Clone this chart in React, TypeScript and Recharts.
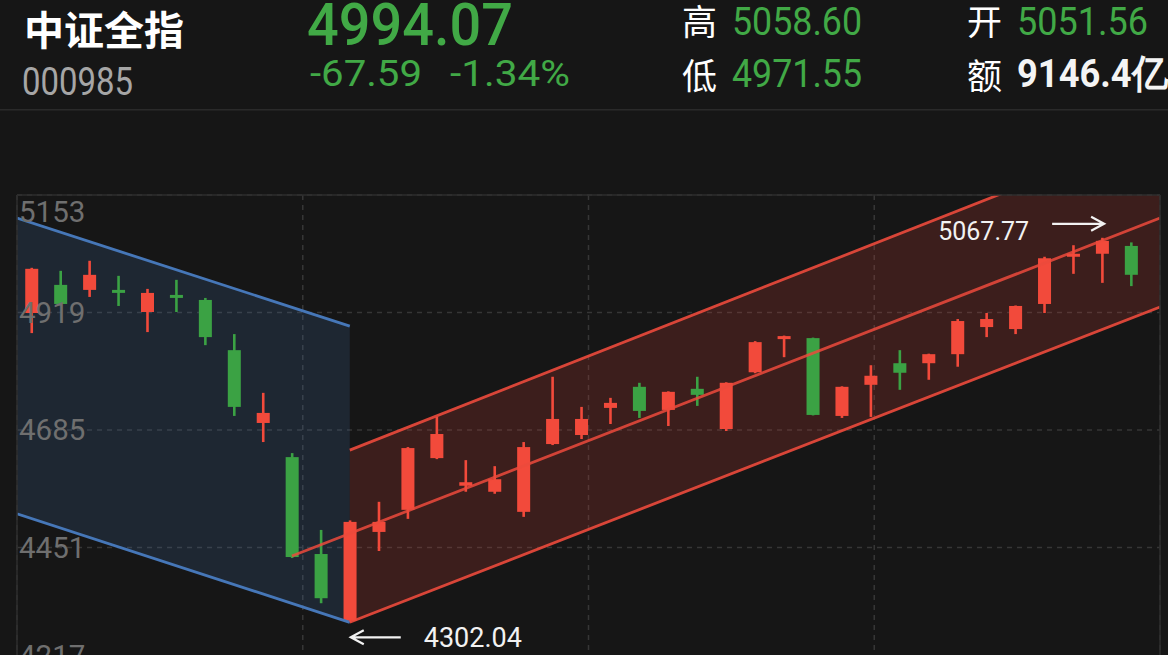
import React from 'react';
import { ComposedChart, Bar, Line, Area, Scatter, XAxis, YAxis, CartesianGrid } from 'recharts';

const RED = '#f24a3b';
const GREEN = '#3ba244';
const TEXT_GREEN = '#41a946';
const BG = '#161616';
const NUM_FONT = 'Roboto, "DejaVu Sans", sans-serif';
const CJK_FONT = '"Noto Sans CJK SC", "Noto Sans", sans-serif';

// daily candles, oldest first
const opens = [4918, 4974, 4964, 4964, 4920, 4954, 4944, 4844, 4699, 4631, 4438, 4305, 4482, 4526, 4629, 4574, 4562, 4522, 4657, 4675, 4729, 4771, 4725, 4767, 4687, 4800, 4866, 4868, 4713, 4775, 4818, 4818, 4836, 4890, 4886, 4936, 5030, 5036, 5051.56];
const closes = [5006, 4936, 4994, 4960, 4958, 4950, 4870, 4731, 4719, 4432, 4350, 4502, 4502, 4649, 4677, 4581, 4587, 4651, 4707, 4707, 4739, 4723, 4761, 4755, 4779, 4860, 4872, 4715, 4771, 4793, 4799, 4836, 4902, 4906, 4932, 5027, 5036, 5061.66, 4994.07];
const highs = [5008, 5002, 5022, 4992, 4966, 4984, 4948, 4876, 4759, 4639, 4486, 4505, 4542, 4651, 4711, 4625, 4613, 4661, 4791, 4731, 4749, 4779, 4762, 4791, 4780, 4862, 4873, 4869, 4772, 4814, 4844, 4837, 4906, 4918, 4933, 5030, 5053, 5067.77, 5058.6];
const lows = [4878, 4933, 4950, 4932, 4880, 4920, 4854, 4713, 4661, 4430, 4340, 4302.04, 4444, 4508, 4627, 4562, 4558, 4512, 4655, 4667, 4697, 4709, 4693, 4733, 4683, 4798, 4830, 4714, 4709, 4711, 4765, 4785, 4811, 4870, 4876, 4918, 4996, 4978, 4971.55];

const yTicks = [4217, 4451, 4685, 4919, 5153];
const yDomain = [4217, 5153];
const xDomain = [-0.5, 39];
const gridX = [9.375, 19.25, 29.125];

// channel endpoints (candle index, price)
const blueUpper = [{ i: -0.5, v: 5107 }, { i: 11, v: 4892 }];
const blueLower = [{ i: -0.5, v: 4518 }, { i: 11, v: 4302.04 }];
const redUpper = [{ i: 11, v: 4645 }, { i: 39, v: 5280 }];
const redMid = [{ i: 9, v: 4434 }, { i: 39, v: 5107 }];
const redLower = [{ i: 11, v: 4302.04 }, { i: 39, v: 4930 }];

const maxPoint = [{ i: 37, v: 5067.77 }];
const minPoint = [{ i: 11, v: 4302.04 }];

const candles = opens.map((o, i) => ({
  i,
  open: o,
  close: closes[i],
  high: highs[i],
  low: lows[i],
  range: [lows[i], highs[i]],
}));

const blueBand = blueUpper.map((p, k) => ({ i: p.i, band: [blueLower[k].v, p.v] }));
const redBand = redUpper.map((p, k) => ({ i: p.i, band: [redLower[k].v, p.v] }));

function Candle(props: any) {
  const { x, y, width, height, payload } = props;
  if (!payload) return null;
  const { open, close, high, low } = payload;
  const color = close >= open ? RED : GREEN;
  const span = high - low || 1;
  const toY = (v: number) => y + ((high - v) / span) * height;
  const cx = x + width / 2;
  const top = toY(Math.max(open, close));
  const bot = toY(Math.min(open, close));
  return (
    <g>
      <line x1={cx} x2={cx} y1={y} y2={y + height} stroke={color} strokeWidth={2.6} />
      <rect x={x} y={top} width={width} height={Math.max(bot - top, 3)} fill={color} />
    </g>
  );
}

function YTick(props: any) {
  const { x, y, payload } = props;
  // the end labels are pulled inside the plot frame
  const shift = payload.value === yTicks[yTicks.length - 1] ? 17 : payload.value === yTicks[0] ? -9 : 0;
  return (
    <text x={x} y={y + shift} dy="0.355em" textAnchor="start" fill="#6f6f6f" fontSize={29.5} fontFamily={NUM_FONT}>
      {payload.value}
    </text>
  );
}

function Arrow({ x1, x2, y }: { x1: number; x2: number; y: number }) {
  const dir = x2 > x1 ? 1 : -1;
  return (
    <path
      d={`M${x1},${y} L${x2},${y} M${x2 - dir * 13},${y - 7} L${x2},${y} L${x2 - dir * 13},${y + 7}`}
      stroke="#f2f2f2"
      strokeWidth={2.2}
      fill="none"
    />
  );
}

function MaxMark(props: any) {
  const { cx, cy } = props;
  return (
    <g>
      <text x={cx - 73} y={cy + 2} textAnchor="end" fill="#f2f2f2" fontSize={25} fontFamily={NUM_FONT}>
        5067.77
      </text>
      <Arrow x1={cx - 50} x2={cx + 2} y={cy - 14} />
    </g>
  );
}

function MinMark(props: any) {
  const { cx, cy } = props;
  return (
    <g>
      <Arrow x1={cx + 51} x2={cx + 1} y={cy + 15} />
      <text x={cx + 74} y={cy + 25} textAnchor="start" fill="#f2f2f2" fontSize={27} fontFamily={NUM_FONT}>
        4302.04
      </text>
    </g>
  );
}

function Header() {
  const g = { fill: TEXT_GREEN, fontFamily: NUM_FONT, lengthAdjust: 'spacingAndGlyphs' as const };
  const cjk = { fill: '#ffffff', fontFamily: CJK_FONT };
  return (
    <svg width={1168} height={112} style={{ position: 'absolute', left: 0, top: 0 }}>
      <text x={24} y={45} fontSize={40} fontWeight={700} {...cjk}>中证全指</text>
      <text x={22} y={95} fontSize={38} fill="#a6a6a6" fontFamily={NUM_FONT} textLength={111} lengthAdjust="spacingAndGlyphs">000985</text>
      <text x={307} y={45} fontSize={59} fontWeight={500} textLength={206} {...g}>4994.07</text>
      <text x={310} y={86} fontSize={36} textLength={112} {...g}>-67.59</text>
      <text x={450} y={86} fontSize={36} textLength={120} {...g}>-1.34%</text>
      <text x={682} y={35} fontSize={35} {...cjk}>高</text>
      <text x={732} y={35} fontSize={39} textLength={130} {...g}>5058.60</text>
      <text x={682} y={89} fontSize={35} {...cjk}>低</text>
      <text x={732} y={87} fontSize={39} textLength={130} {...g}>4971.55</text>
      <text x={967} y={35} fontSize={35} {...cjk}>开</text>
      <text x={1017} y={35} fontSize={39} textLength={131} {...g}>5051.56</text>
      <text x={967} y={89} fontSize={35} {...cjk}>额</text>
      <text x={1017} y={87} fontSize={39} fontWeight={700} fill="#f4f4f4" fontFamily={NUM_FONT} textLength={151} lengthAdjust="spacingAndGlyphs">9146.4亿</text>
      <rect x={0} y={109} width={1168} height={1.5} fill="#2a2a2a" />
    </svg>
  );
}

export default function App() {
  return (
    <div style={{ position: 'fixed', left: 0, top: 0, width: 1168, height: 655, overflow: 'hidden', background: BG }}>
      <Header />
      <div style={{ position: 'absolute', left: 0, top: 0 }}>
        <ComposedChart width={1168} height={700} data={candles} margin={{ top: 195, right: 8, bottom: 35, left: 17 }}>
          <CartesianGrid stroke="#363636" strokeWidth={1.5} strokeDasharray="5 5" />
          <XAxis type="number" dataKey="i" domain={xDomain} ticks={gridX} allowDataOverflow hide />
          <XAxis xAxisId="frame" orientation="top" mirror type="number" domain={xDomain} height={1} tick={false} tickLine={false} axisLine={{ stroke: '#2e2e2e', strokeWidth: 1.5 }} />
          <YAxis yAxisId="frame" orientation="right" mirror width={1} domain={yDomain} tick={false} tickLine={false} axisLine={{ stroke: '#2e2e2e', strokeWidth: 1.5 }} />
          <YAxis
            domain={yDomain}
            ticks={yTicks}
            allowDataOverflow
            mirror
            width={1}
            tickSize={0}
            tickMargin={2}
            tickLine={false}
            axisLine={{ stroke: '#2e2e2e', strokeWidth: 1.5 }}
            tick={<YTick />}
            interval={0}
          />
          <Area data={blueBand} dataKey="band" type="linear" stroke="none" fill="rgba(67,112,167,0.2)" fillOpacity={1} isAnimationActive={false} />
          <Area data={redBand} dataKey="band" type="linear" stroke="none" fill="rgba(205,60,50,0.21)" fillOpacity={1} isAnimationActive={false} />
          <Bar dataKey="range" barSize={23} shape={<Candle />} isAnimationActive={false} />
          <Line data={blueUpper} dataKey="v" type="linear" stroke="#4677b8" strokeWidth={2.8} dot={false} isAnimationActive={false} />
          <Line data={blueLower} dataKey="v" type="linear" stroke="#4677b8" strokeWidth={2.8} dot={false} isAnimationActive={false} />
          <Line data={redUpper} dataKey="v" type="linear" stroke="#ec4a3c" strokeOpacity={0.9} strokeWidth={2.8} dot={false} isAnimationActive={false} />
          <Line data={redMid} dataKey="v" type="linear" stroke="#ec4a3c" strokeOpacity={0.85} strokeWidth={2.8} dot={false} isAnimationActive={false} />
          <Line data={redLower} dataKey="v" type="linear" stroke="#ec4a3c" strokeOpacity={0.9} strokeWidth={2.8} dot={false} isAnimationActive={false} />
          <Scatter data={maxPoint} dataKey="v" shape={<MaxMark />} isAnimationActive={false} />
          <Scatter data={minPoint} dataKey="v" shape={<MinMark />} isAnimationActive={false} />
        </ComposedChart>
      </div>
    </div>
  );
}
